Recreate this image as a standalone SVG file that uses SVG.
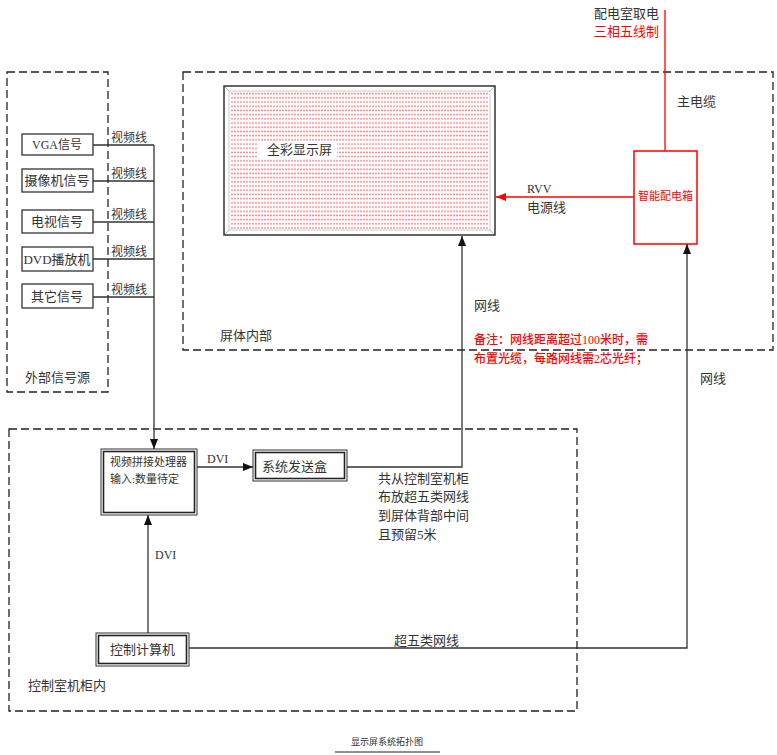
<svg xmlns="http://www.w3.org/2000/svg" width="777" height="755" viewBox="0 0 777 755">
<style>
.dash{fill:none;stroke:#222;stroke-width:1.3;stroke-dasharray:8 4}
.ln{fill:none;stroke:#333;stroke-width:1.3}
.box{fill:#fff;stroke:#333;stroke-width:1.3}
.t{font-family:"Liberation Serif","Noto Sans CJK SC",serif;fill:#333}
.s12{font-size:12px}
.s13{font-size:13px}
.s11{font-size:11px}
.red{fill:#f00}
</style>
<defs>
<marker id="ar" viewBox="0 0 10 8" refX="10" refY="4" markerWidth="10" markerHeight="8" markerUnits="userSpaceOnUse" orient="auto">
<path d="M0,0 L10,4 L0,8 Z" fill="#111"/>
</marker>
<marker id="arr" viewBox="0 0 10 8" refX="10" refY="4" markerWidth="10" markerHeight="8" markerUnits="userSpaceOnUse" orient="auto">
<path d="M0,0 L10,4 L0,8 Z" fill="#f00"/>
</marker>
<pattern id="dots" width="3" height="4.2" patternUnits="userSpaceOnUse">
<rect x="0" y="0.5" width="2" height="1.5" fill="#ff7a7a"/>
</pattern>
</defs>

<g id="external-region">
<rect class="dash" x="7" y="72" width="101" height="320"/>
<text class="t s13" x="25" y="382">外部信号源</text>
</g>
<g id="screen-region">
<rect class="dash" x="183" y="72" width="590" height="278"/>
<text class="t s13" x="220" y="340">屏体内部</text>
</g>
<g id="control-region">
<rect class="dash" x="9" y="429" width="568" height="282"/>
<text class="t s13" x="28" y="690">控制室机柜内</text>
</g>

<g id="vga"><rect class="box" x="22" y="134" width="71" height="21"/><text class="t s12" x="57" y="149" text-anchor="middle">VGA信号</text></g>
<g id="camera"><rect class="box" x="22" y="169" width="71" height="23"/><text class="t s13" x="57" y="185" text-anchor="middle">摄像机信号</text></g>
<g id="tv"><rect class="box" x="22" y="210" width="71" height="23"/><text class="t s13" x="57" y="226" text-anchor="middle">电视信号</text></g>
<g id="dvd"><rect class="box" x="22" y="247" width="71" height="24"/><text class="t s13" x="57" y="264" text-anchor="middle">DVD播放机</text></g>
<g id="other"><rect class="box" x="22" y="284" width="71" height="24"/><text class="t s13" x="57" y="301" text-anchor="middle">其它信号</text></g>

<g id="screen">
<rect x="224" y="86" width="271" height="149" fill="#fff" stroke="#333" stroke-width="1.5"/>
<rect x="230" y="92" width="259" height="137" fill="url(#dots)" opacity="0.85"/>
<path d="M225,87 L230,92 M494,87 L489,92 M225,234 L230,229 M494,234 L489,229" stroke="#bbb" stroke-width="1"/>
<rect x="229" y="91" width="261" height="139" fill="none" stroke="#ccc" stroke-width="1"/>
<rect x="258" y="141" width="79" height="17" fill="#fff"/>
<text class="t s13" x="267" y="154" fill="#555">全彩显示屏</text>
</g>

<g id="power-box">
<rect x="634" y="151" width="63" height="93" fill="#fff" stroke="#f00" stroke-width="1.5"/>
<text class="t s11 red" x="665.5" y="200" text-anchor="middle">智能配电箱</text>
</g>

<g id="processor">
<rect x="101" y="449" width="96" height="66" fill="#fff" stroke="#333" stroke-width="1"/>
<rect x="103.5" y="451.5" width="91" height="61" fill="none" stroke="#222" stroke-width="1.6"/>
<text class="t s11" x="110" y="466">视频拼接处理器</text>
<text class="t s11" x="110" y="483">输入:数量待定</text>
</g>

<g id="sender">
<rect x="253" y="450" width="94" height="31" fill="#fff" stroke="#333" stroke-width="1"/>
<rect x="255.5" y="452.5" width="89" height="26" fill="none" stroke="#222" stroke-width="1.6"/>
<text class="t s13" x="262" y="471">系统发送盒</text>
</g>

<g id="computer">
<rect x="96" y="633" width="93" height="33" fill="#fff" stroke="#333" stroke-width="1"/>
<rect x="98.5" y="635.5" width="88" height="28" fill="none" stroke="#222" stroke-width="1.6"/>
<text class="t s13" x="142.5" y="654" text-anchor="middle">控制计算机</text>
</g>

<g id="connectors">
<path class="ln" d="M93,145 H154 M93,181 H154 M93,222 H154 M93,259 H154 M93,297 H154"/>
<path class="ln" d="M154,145 V449" marker-end="url(#ar)"/>
<path class="ln" d="M197,467 H253" marker-end="url(#ar)"/>
<path class="ln" d="M148,633 V515" marker-end="url(#ar)"/>
<path class="ln" d="M347,467 H462 V236" marker-end="url(#ar)"/>
<path class="ln" d="M189,648 H687 V244" marker-end="url(#ar)"/>
<path d="M634,197 H496" fill="none" stroke="#f00" stroke-width="1.5" marker-end="url(#arr)"/>
<path d="M665,10 V151" fill="none" stroke="#f00" stroke-width="1.3"/>
</g>

<g id="labels">
<text class="t s12" x="111" y="142">视频线</text>
<text class="t s12" x="111" y="178">视频线</text>
<text class="t s12" x="111" y="219">视频线</text>
<text class="t s12" x="111" y="256">视频线</text>
<text class="t s12" x="111" y="294">视频线</text>
<text class="t s12" x="207" y="463">DVI</text>
<text class="t s12" x="155" y="559">DVI</text>
<text class="t s13" x="474" y="310">网线</text>
<text class="t s13" x="700" y="383">网线</text>
<text class="t s13" x="394" y="645">超五类网线</text>
<text class="t s13" x="594" y="18">配电室取电</text>
<text class="t s13 red" x="594" y="36">三相五线制</text>
<text class="t s13" x="677" y="106">主电缆</text>
<text class="t s12" x="527" y="193">RVV</text>
<text class="t s13" x="527" y="212">电源线</text>
<text class="t s12 red" x="474" y="344" font-weight="500">备注：网线距离超过100米时，需</text>
<text class="t s12 red" x="474" y="363" font-weight="500">布置光缆，每路网线需2芯光纤；</text>
<text class="t s13" x="378" y="483">共从控制室机柜</text>
<text class="t s13" x="378" y="501">布放超五类网线</text>
<text class="t s13" x="378" y="520">到屏体背部中间</text>
<text class="t s13" x="378" y="539">且预留5米</text>
<text class="t" font-size="9" x="387" y="745" text-anchor="middle">显示屏系统拓扑图</text>
<path d="M335,752 H440" stroke="#222" stroke-width="1.2"/>
</g>
</svg>
